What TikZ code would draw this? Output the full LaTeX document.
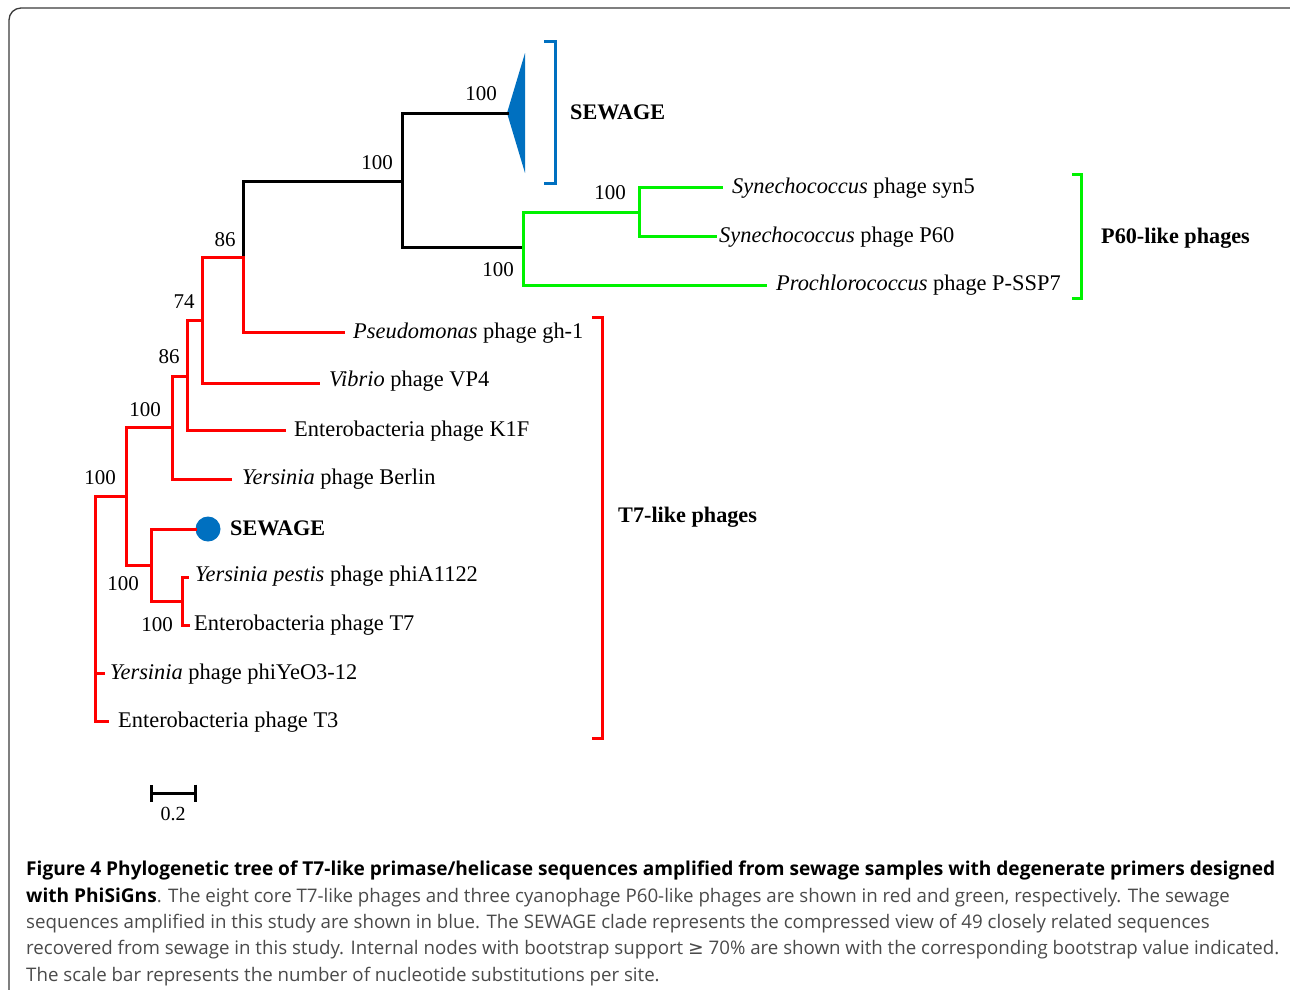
\documentclass[tikz,border=0pt]{standalone}
\usepackage{fontspec}
\setmainfont{Liberation Serif}
\newfontfamily\capfont{Open Sans}
\newfontfamily\symfont{DejaVu Sans}
\usetikzlibrary{positioning,arrows.meta}
\definecolor{cRed}{HTML}{FF0000}
\definecolor{cGreen}{HTML}{00F200}
\definecolor{cBlue}{HTML}{0070C0}
\definecolor{cFrame}{HTML}{3A3A3A}
\definecolor{cText}{HTML}{4A4A4A}
\newcommand{\capbold}[1]{\textcolor{black}{\fontsize{19.1}{26.3}\selectfont\bfseries #1}}
\tikzset{
  branch/.style={line width=3pt,line cap=rect},
  leaf/.style={anchor=west,inner sep=0pt,font=\fontsize{22.4}{24}\selectfont,text height=16pt,text depth=3pt},
  clade/.style={leaf,font=\fontsize{22.2}{24}\selectfont\bfseries},
  boot/.style={inner sep=0pt,font=\fontsize{21}{24}\selectfont},
  bracket/.style={line width=3pt},
}

\begin{document}
\begin{tikzpicture}[x=1pt,y=-1pt]
  \useasboundingbox (0,0) rectangle (1290,989);
  \begin{scope}
    \clip (0,0) rectangle (1290,989);
    \draw[cFrame,line width=1.3pt,rounded corners=12pt] (9,8) rectangle (1310,1010);
  \end{scope}

  % internal nodes
  \coordinate (root) at (95,600);
  \coordinate (n100b) at (126,496);
  \coordinate (n100a) at (172,427);
  \coordinate (n86b) at (187,376);
  \coordinate (n74) at (202,320);
  \coordinate (nA) at (243,257);
  \coordinate (nB) at (402,181);
  \coordinate (nC) at (507,113);
  \coordinate (nG) at (523,247);
  \coordinate (nH) at (639,212);
  \coordinate (n100c) at (151,565);
  \coordinate (n100d) at (182,601);

  % tips
  \coordinate (tSyn5) at (721,187);
  \coordinate (tP60) at (715,236);
  \coordinate (tPSSP7) at (765,285);
  \coordinate (tPseudo) at (343,332);
  \coordinate (tVibrio) at (318,383);
  \coordinate (tK1F) at (284,430);
  \coordinate (tBerlin) at (230,479);
  \coordinate (tA1122) at (187,577);
  \coordinate (tT7) at (188,625);
  \coordinate (tYeO) at (103,673);
  \coordinate (tT3) at (107,721);

  \node[circle,fill=cBlue,minimum size=25pt,inner sep=0pt] (sdot) at (208,529) {};
  \fill[cBlue] (nC) -- (525,53) -- (525,173) -- cycle;

  % black backbone
  \draw[branch] (nA) |- (nB);
  \draw[branch] (nB) |- (nC);
  \draw[branch] (nB) |- (nG);

  % green clade
  \draw[branch,cGreen] (nG) |- (nH);
  \draw[branch,cGreen] (nG) |- (tPSSP7);
  \draw[branch,cGreen] (nH) |- (tSyn5);
  \draw[branch,cGreen] (nH) |- (tP60);

  % red clade
  \draw[branch,cRed] (nA) |- (tPseudo);
  \draw[branch,cRed] (n74) |- (nA);
  \draw[branch,cRed] (n74) |- (tVibrio);
  \draw[branch,cRed] (n86b) |- (n74);
  \draw[branch,cRed] (n86b) |- (tK1F);
  \draw[branch,cRed] (n100a) |- (n86b);
  \draw[branch,cRed] (n100a) |- (tBerlin);
  \draw[branch,cRed] (n100b) |- (n100a);
  \draw[branch,cRed] (n100b) |- (n100c);
  \draw[branch,cRed] (n100c) |- (sdot.west);
  \draw[branch,cRed] (n100c) |- (n100d);
  \draw[branch,cRed] (n100d) |- (tA1122);
  \draw[branch,cRed] (n100d) |- (tT7);
  \draw[branch,cRed] (root) |- (n100b);
  \draw[branch,cRed] (root) |- (tYeO);
  \draw[branch,cRed] (root) |- (tT3);

  % leaf labels
  \node[leaf] (lSyn5) at (732,187) {\textit{Synechococcus} phage syn5};
  \node[leaf] (lP60) at (719,236) {\textit{Synechococcus} phage P60};
  \node[leaf] (lPSSP7) at (776,284) {\textit{Prochlorococcus} phage P-SSP7};
  \node[leaf] (lPseudo) at (353,332) {\textit{Pseudomonas} phage gh-1};
  \node[leaf] (lVibrio) at (329,380) {\textit{Vibrio} phage VP4};
  \node[leaf] (lK1F) at (294,430) {Enterobacteria phage K1F};
  \node[leaf] (lBerlin) at (242,478) {\textit{Yersinia} phage Berlin};
  \node[clade] (lSewDot) at (230,529) {SEWAGE};
  \node[leaf] (lA1122) at (195,575) {\textit{Yersinia pestis} phage phiA1122};
  \node[leaf] (lT7) at (194,624) {Enterobacteria phage T7};
  \node[leaf] (lYeO) at (110,673) {\textit{Yersinia} phage phiYeO3-12};
  \node[leaf] (lT3) at (118,721) {Enterobacteria phage T3};

  % bootstrap values
  \foreach \bx/\by/\bv [count=\i] in {481/94/100,377/163/100,225/240/86,184/302/74,
      169/357/86,145/410/100,100/478/100,610/193/100,498/270/100,123/584/100,157/625/100}
    \node[boot] (bs\i) at (\bx,\by) {\bv};

  % clade brackets
  \draw[bracket,cBlue] (544,41) -| (555,183) -- (544,183);
  \draw[bracket,cGreen] (1072,174) -| (1081,298) -- (1072,298);
  \draw[bracket,cRed] (592,317) -| (602,738) -- (592,738);
  \node[clade] (gSew) at (570,113) {SEWAGE};
  \node[clade] (gP60) at (1101,237) {P60-like phages};
  \node[clade] (gT7) at (618,516) {T7-like phages};

  % scale bar
  \coordinate (sb1) at (150,793);
  \coordinate (sb2) at (197,793);
  \draw[line width=3pt,{Bar[width=17pt,line width=3pt]}-{Bar[width=17pt,line width=3pt]}] (sb1) -- (sb2);
  \node[boot,font=\fontsize{20}{22}\selectfont] (sbl) at (173,814) {0.2};

  % caption
  \node[anchor=north west,inner sep=0pt,align=left,text=cText,
        font=\capfont\fontsize{18.7}{26.3}\selectfont] (cap) at (26,861) {%
    \capbold{Figure 4 Phylogenetic tree of T7-like primase/helicase sequences amplified from sewage samples with degenerate primers designed}\\
    \capbold{with PhiSiGns}. The eight core T7-like phages and three cyanophage P60-like phages are shown in red and green, respectively. The sewage\\
    sequences amplified in this study are shown in blue. The SEWAGE clade represents the compressed view of 49 closely related sequences\\
    recovered from sewage in this study. Internal nodes with bootstrap support {\symfont ≥} 70\% are shown with the corresponding bootstrap value indicated.\\
    The scale bar represents the number of nucleotide substitutions per site.};
\end{tikzpicture}
\end{document}
